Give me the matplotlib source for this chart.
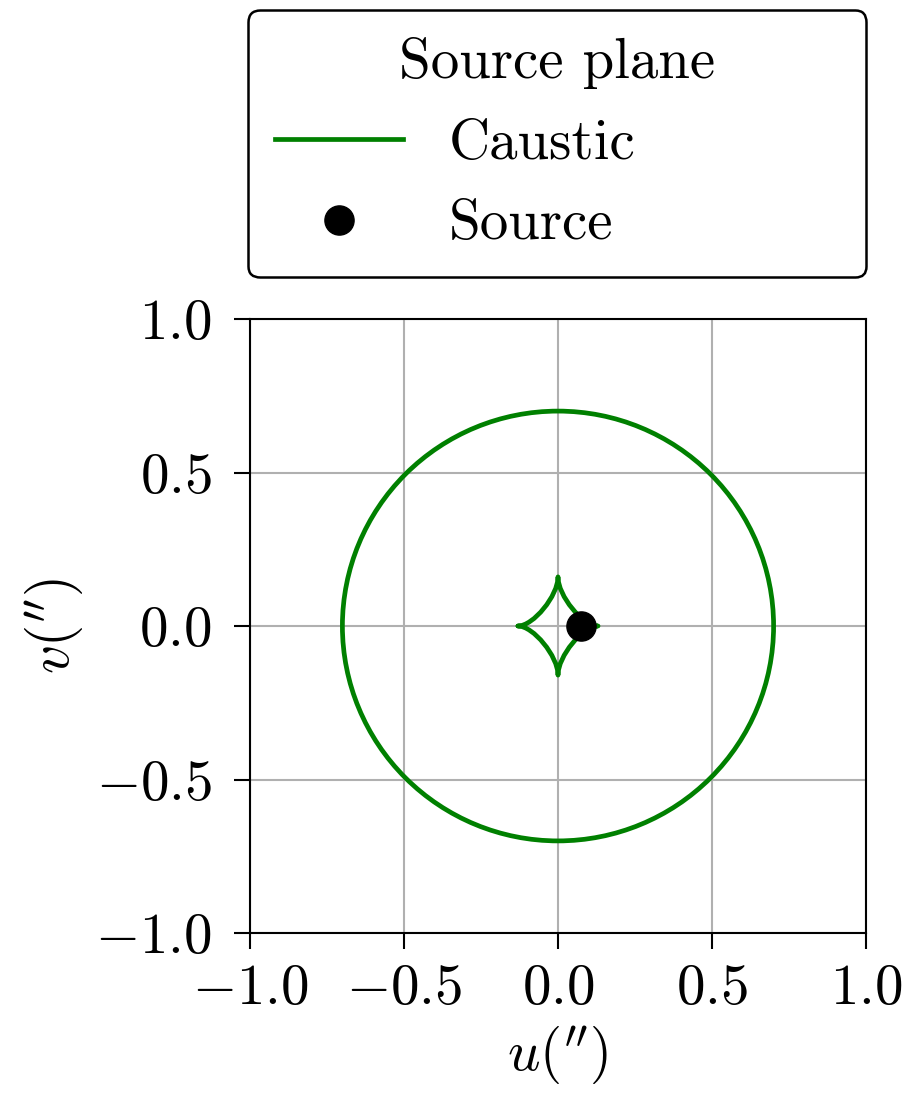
"""Source-plane caustic of the lens model with the source position."""

import matplotlib

matplotlib.use("Agg")

import matplotlib.pyplot as plt
from matplotlib.lines import Line2D
from matplotlib.patches import Circle, PathPatch
from matplotlib.path import Path

# radial (outer) caustic
RADIAL_RADIUS = 0.70

# tangential caustic: cusp points (u, v) going round
CUSPS_U = [-0.13, 0.0, 0.13, 0.0]
CUSPS_V = [0.0, 0.16, 0.0, -0.16]
EDGE_PULL = 0.08 / 0.13  # how far along the axis each edge leaves its cusp

SOURCE_U = [0.075]
SOURCE_V = [0.0]

TICKS = [-1.0, -0.5, 0.0, 0.5, 1.0]

FONT_SIZE = 41
CAUSTIC_COLOR = "green"


def _tangential_path() -> Path:
    verts = [(CUSPS_U[0], CUSPS_V[0])]
    codes = [Path.MOVETO]
    n = len(CUSPS_U)
    for i in range(n):
        u0, v0 = CUSPS_U[i], CUSPS_V[i]
        u1, v1 = CUSPS_U[(i + 1) % n], CUSPS_V[(i + 1) % n]
        # control points stay on the axis of each cusp so the tips are sharp
        verts.append((u0 * EDGE_PULL, v0 * EDGE_PULL))
        verts.append((u1 * EDGE_PULL, v1 * EDGE_PULL))
        verts.append((u1, v1))
        codes += [Path.CURVE4] * 3
    return Path(verts, codes)


def main() -> None:
    plt.rcParams.update({
        "font.family": "serif",
        "font.serif": ["cmr10", "DejaVu Serif"],
        "mathtext.fontset": "cm",
        "axes.formatter.use_mathtext": True,
        "font.size": FONT_SIZE,
        "axes.linewidth": 1.5,
    })

    fig = plt.figure(figsize=(9.16, 10.95), dpi=100)
    ax = fig.add_axes([250 / 916, 162 / 1095, 616 / 916, 614 / 1095])

    lw = 3.4
    ax.add_patch(Circle((0.0, 0.0), RADIAL_RADIUS, fill=False,
                        edgecolor=CAUSTIC_COLOR, linewidth=lw, zorder=3))
    ax.add_patch(PathPatch(_tangential_path(), fill=False,
                           edgecolor=CAUSTIC_COLOR, linewidth=lw,
                           capstyle="round", joinstyle="round", zorder=3))
    ax.plot(SOURCE_U, SOURCE_V, "o", color="black", markersize=21, zorder=4)

    ax.set_xlim(-1.0, 1.0)
    ax.set_ylim(-1.0, 1.0)
    ax.set_xticks(TICKS)
    ax.set_yticks(TICKS)
    ax.tick_params(length=11.5, width=1.5)
    ax.tick_params(axis="x", pad=11)
    ax.tick_params(axis="y", pad=16)
    ax.grid(True, color="#b0b0b0", linewidth=1.5)
    ax.set_axisbelow(True)
    ax.set_xlabel(r"$u('')$", labelpad=6)
    ax.set_ylabel(r"$v('')$", labelpad=7)

    handles = [
        Line2D([], [], color=CAUSTIC_COLOR, linewidth=lw),
        Line2D([], [], color="black", marker="o", linestyle="none", markersize=21),
    ]
    leg = ax.legend(handles, ["Caustic", "Source"], title="Source plane",
                    loc="lower left", bbox_to_anchor=(-0.003, 1.068, 1.003, 0.3),
                    mode="expand", borderaxespad=0.0,
                    fontsize=FONT_SIZE, title_fontsize=FONT_SIZE,
                    handlelength=2.25, handletextpad=0.8, labelspacing=0.52,
                    borderpad=0.47, framealpha=1.0, edgecolor="black", fancybox=True)
    leg.get_frame().set_linewidth(1.8)

    fig.savefig("out.png", dpi=100)
    plt.close(fig)


if __name__ == "__main__":
    main()
